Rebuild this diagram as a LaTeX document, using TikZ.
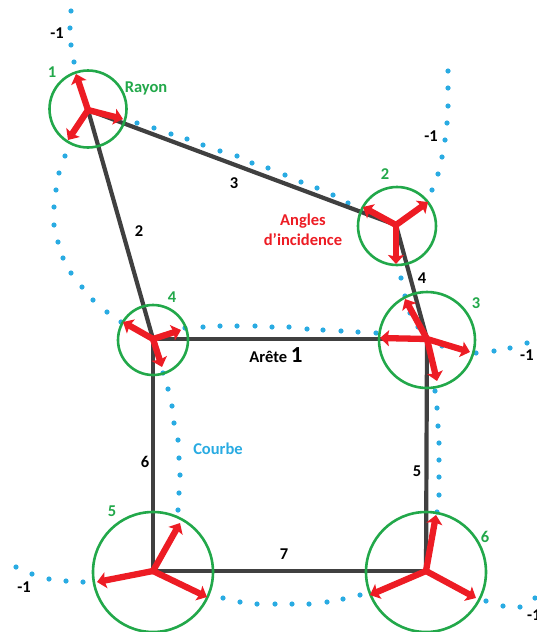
\documentclass[tikz,border=0pt]{standalone}
\usepackage{fontspec}
\setmainfont{Carlito}
\usetikzlibrary{arrows.meta}
\definecolor{edgegray}{HTML}{404040}
\definecolor{vgreen}{HTML}{22A84A}
\definecolor{ared}{HTML}{ED1C24}
\definecolor{cblue}{HTML}{29ABE2}
\begin{document}
\begin{tikzpicture}[x=1pt,y=-1pt,
  edge/.style={draw=edgegray,line width=4.2pt},
  vcircle/.style={draw=vgreen,line width=2.6pt},
  angarrow/.style={draw=ared,line width=6.3pt,-{Stealth[length=9pt,width=16pt,inset=1.5pt]}},
  cdot/.style={fill=cblue},
  lbl/.style={inner sep=0pt,font=\fontsize{16.5}{18}\selectfont\bfseries},
  blk/.style={lbl,text=black},
  grn/.style={lbl,text=vgreen},
  red/.style={lbl,text=ared},
  blu/.style={lbl,text=cblue}]
\useasboundingbox (0,0) rectangle (536,632);
% vertices
\coordinate (v1) at (88,110);
\coordinate (v2) at (396,225);
\coordinate (v3) at (427,339);
\coordinate (v4) at (153,339);
\coordinate (v5) at (153,571);
\coordinate (v6) at (426,571);
% blue dotted curve
\foreach \p in {(71,11),(70,28),(71,45),(74,62),
  (137,123),(154,128),(171,134),(187,139),(203,145),(220,151),(237,156),(252,163),(268,168),(285,175),(301,182),(317,188),(333,195),(348,203),
  (432,190),(438,174),(442,157),(445,140),(447,123),(448,106),(448,88),(448,71),
  (65,156),(59,173),(56,190),(54,207),(54,225),(58,242),(63,258),(71,273),(82,287),(93,300),(107,312),(121,322),
  (185,328),(203,327),(220,326),(237,326),(255,326),(272,327),(289,327),(307,329),(323,330),(341,331),(358,332),(376,333),
  (476,353),(494,351),(510,348),(527,343),
  (401,278),(405,296),(410,313),(418,327),(442,346),
  (435,391),(437,408),(438,426),(439,443),(439,460),(439,477),(439,495),(437,512),
  (163,373),(168,389),(172,406),(174,423),(178,440),(179,458),(180,475),(179,493),(178,510),
  (16,567),(32,574),(49,579),(66,581),(83,582),
  (223,598),(240,602),(257,604),(275,604),(292,604),(309,604),(327,602),(343,599),(360,595),
  (486,601),(503,606),(520,607),(535,598)}
  \fill[cdot] \p circle (2.6pt);
% edges
\draw[edge] (v4) -- (v3);
\draw[edge] (v1) -- (v4);
\draw[edge] (v1) -- (v2);
\draw[edge] (v2) -- (v3);
\draw[edge] (v3) -- (v6);
\draw[edge] (v4) -- (v5);
\draw[edge] (v5) -- (v6);
% circles
\draw[vcircle] (88,109) circle (38.5pt);
\draw[vcircle] (397,226) circle (39pt);
\draw[vcircle] (427,340) circle (48pt);
\draw[vcircle] (153,340) circle (35pt);
\draw[vcircle] (153,572) circle (60pt);
\draw[vcircle] (426,572) circle (60pt);
% arrow tips
\coordinate (t1a) at (76,74);  \coordinate (t1b) at (123,119); \coordinate (t1c) at (68,140);
\coordinate (t2a) at (363,207); \coordinate (t2b) at (428,202); \coordinate (t2c) at (396,264);
\coordinate (t3a) at (380,338); \coordinate (t3b) at (470,352); \coordinate (t3c) at (405,299); \coordinate (t3d) at (437,381);
\coordinate (t4a) at (123,322); \coordinate (t4b) at (181,330); \coordinate (t4c) at (162,367);
\coordinate (t5a) at (180,523); \coordinate (t5b) at (97,582);  \coordinate (t5c) at (207,597);
\coordinate (t6a) at (436,515); \coordinate (t6b) at (370,595); \coordinate (t6c) at (476,598);
\foreach \v/\t in {v1/t1a,v1/t1b,v1/t1c,v2/t2a,v2/t2b,v2/t2c,v3/t3a,v3/t3b,v3/t3c,v3/t3d,
  v4/t4a,v4/t4b,v4/t4c,v5/t5a,v5/t5b,v5/t5c,v6/t6a,v6/t6b,v6/t6c}
  \draw[angarrow] (\v) -- (\t);
% labels
\node[blk] (m1a) at (57,33) {-1};
\node[grn] (n1) at (52,72) {1};
\node[grn] (rayon) at (146,88) {Rayon};
\node[blk] (e3) at (234,183) {3};
\node[blk] (e2) at (139,231) {2};
\node[grn] (n2) at (385,174) {2};
\node[blk] (m1b) at (431,136) {-1};
\node[red,align=center,font=\fontsize{16.5}{20}\selectfont\bfseries] (angles) at (303,230) {Angles\\d’incidence};
\node[blk] (e4) at (422,278) {4};
\node[grn] (n4) at (172,297) {4};
\node[grn] (n3) at (476,303) {3};
\node[blk] (e1) at (276,355) {Arête {\fontsize{23}{24}\selectfont 1}};
\node[blk,anchor=west] (m1c) at (520,355) {-1};
\node[blu] (courbe) at (218,449) {Courbe};
\node[blk] (e6) at (145,462) {6};
\node[blk] (e5) at (417,471) {5};
\node[grn] (n5) at (112,511) {5};
\node[blk] (e7) at (284,554) {7};
\node[grn] (n6) at (485,537) {6};
\node[blk] (m1d) at (24,587) {-1};
\node[blk,anchor=west] (m1e) at (527,615) {-1};
\end{tikzpicture}
\end{document}
